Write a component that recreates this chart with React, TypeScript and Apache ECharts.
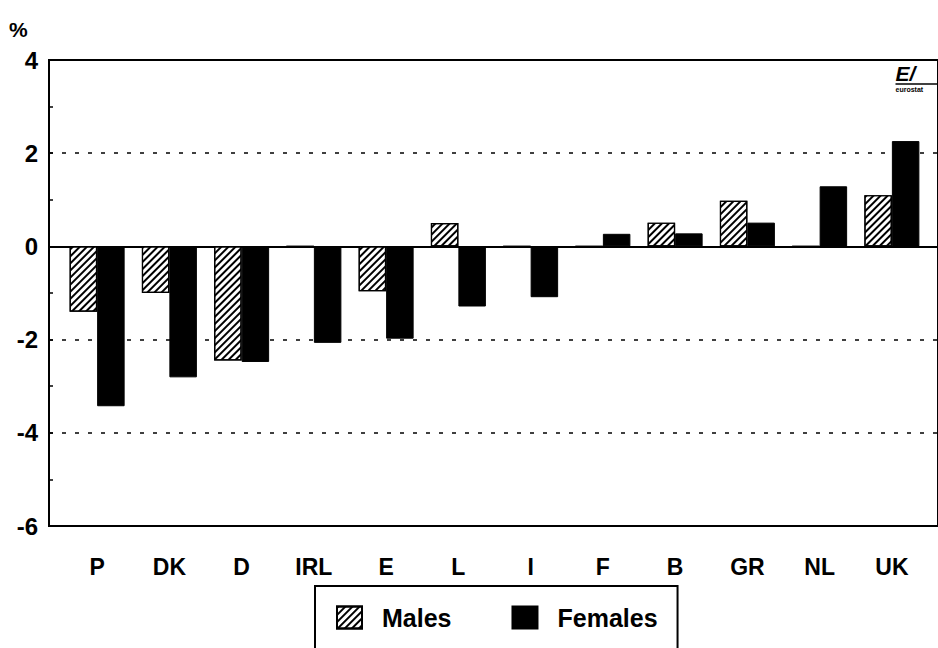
import React, { useEffect, useRef } from "react";
import * as echarts from "echarts";

const categories = ["P", "DK", "D", "IRL", "E", "L", "I", "F", "B", "GR", "NL", "UK"];
const males = [-1.4, -1.0, -2.45, 0, -0.96, 0.5, 0, 0, 0.51, 0.98, 0, 1.1];
const females = [-3.43, -2.81, -2.48, -2.07, -1.98, -1.29, -1.09, 0.27, 0.28, 0.51, 1.29, 2.26];
const seriesNames = ["Males", "Females"];
const yMin = -6;
const yMax = 4;
const yStep = 2;

const FONT = "'Liberation Sans', Arial, sans-serif";

export default function App() {
  const ref = useRef<HTMLDivElement>(null);
  useEffect(() => {
    if (!ref.current) return;
    const chart = echarts.init(ref.current, null, { renderer: "svg" });
    const option: any = {
      animation: false,
      backgroundColor: "#fff",
      textStyle: { fontFamily: FONT },
      grid: [
        { left: 61, right: 10, top: 60, bottom: 122 },
        { left: 49, right: -4, top: 60, bottom: 122, show: true, borderColor: "#000", borderWidth: 2 },
      ],
      xAxis: [
        {
          gridIndex: 0,
          type: "category",
          data: categories,
          axisLine: { show: false },
          axisTick: { show: false },
          axisLabel: { margin: 29, fontSize: 23, fontWeight: "bold", color: "#000", fontFamily: FONT },
        },
        {
          gridIndex: 1,
          type: "category",
          data: categories,
          axisLine: { show: true, onZero: true, lineStyle: { color: "#000", width: 2 } },
          axisTick: { show: false },
          axisLabel: { show: false },
        },
      ],
      yAxis: [
        { gridIndex: 0, type: "value", min: yMin, max: yMax, interval: yStep, show: false },
        {
          gridIndex: 1,
          type: "value",
          min: yMin,
          max: yMax,
          interval: yStep,
          axisLine: { show: true, lineStyle: { color: "#000", width: 2 } },
          axisTick: { show: true, inside: true, length: 4, lineStyle: { color: "#000", width: 1.5 } },
          minorTick: { show: true, splitNumber: 2, length: 4, lineStyle: { color: "#000", width: 1.5 } },
          splitLine: { show: true, lineStyle: { type: [4, 9], color: "#000", width: 1.5 } },
          axisLabel: { fontSize: 24, fontWeight: "bold", color: "#000", margin: 11, fontFamily: FONT },
        },
      ],
      legend: {
        data: seriesNames.map((n) => ({ name: n, icon: "rect" })),
        left: 315,
        top: 586,
        orient: "horizontal",
        itemWidth: 25,
        itemHeight: 22,
        itemGap: 60,
        borderColor: "#000",
        borderWidth: 2,
        padding: [19, 20, 40, 21],
        textStyle: { fontSize: 25, fontWeight: "bold", color: "#000", fontFamily: FONT, padding: [0, 0, 0, 15] },
      },
      series: [
        {
          name: seriesNames[0],
          type: "bar",
          xAxisIndex: 0,
          yAxisIndex: 0,
          data: males,
          barWidth: 27.5,
          barGap: "0%",
          itemStyle: {
            color: "#fff",
            borderColor: "#000",
            borderWidth: 1.2,
            decal: {
              symbol: "rect",
              symbolSize: 1,
              color: "#000",
              dashArrayX: [1, 0],
              dashArrayY: [1.2, 2.3],
              rotation: -Math.PI / 4,
            },
          },
        },
        {
          name: seriesNames[1],
          type: "bar",
          xAxisIndex: 0,
          yAxisIndex: 0,
          data: females,
          barWidth: 27.5,
          barGap: "0%",
          itemStyle: { color: "#000", borderColor: "#000", borderWidth: 1 },
        },
      ],
      graphic: [
        {
          type: "text",
          left: 9,
          top: 19,
          style: { text: "%", font: `bold 21px ${FONT}`, fill: "#000" },
        },
        {
          type: "group",
          left: 893,
          top: 63,
          children: [
            {
              type: "text",
              x: 0,
              y: 0,
              style: { text: "E/", font: `italic bold 21px ${FONT}`, fill: "#000", verticalAlign: "top" },
            },
            { type: "line", shape: { x1: 0, y1: 21, x2: 45, y2: 21 }, style: { stroke: "#000", lineWidth: 1.5 } },
            {
              type: "text",
              x: 0,
              y: 23,
              style: { text: "eurostat", font: `bold 7px ${FONT}`, fill: "#000", verticalAlign: "top" },
            },
          ],
        },
      ],
    };
    chart.setOption(option);
    return () => chart.dispose();
  }, []);
  return <div ref={ref} style={{ width: 938, height: 648, position: "absolute", left: 0, top: 0 }} />;
}
